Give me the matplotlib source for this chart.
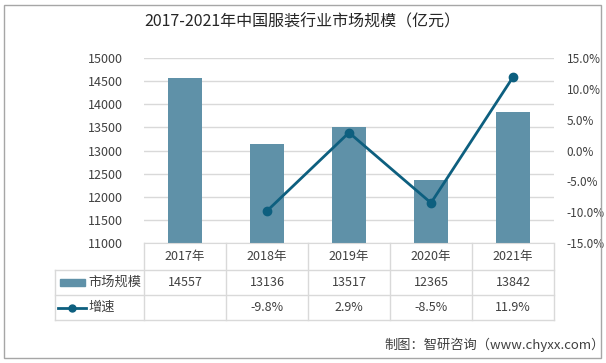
import matplotlib
matplotlib.use('Agg')
import matplotlib.pyplot as plt
from matplotlib.patches import Rectangle
from matplotlib.lines import Line2D
import matplotlib.transforms as mtransforms

plt.rcParams['font.family'] = ['Noto Sans CJK SC', 'DejaVu Sans']

# data
years = ['2017年', '2018年', '2019年', '2020年', '2021年']
market_size = [14557, 13136, 13517, 12365, 13842]
growth = [None, -9.8, 2.9, -8.5, 11.9]
growth_labels = ['', '-9.8%', '2.9%', '-8.5%', '11.9%']
series_names = ['市场规模', '增速']

bar_color = '#5f91a8'
line_color = '#0d5f7f'
grid_color = '#d9d9d9'
text_color = '#404040'

W, H = 606, 363
fig = plt.figure(figsize=(W / 100, H / 100), dpi=100)

# outer frame
fig.patches.append(Rectangle((4 / W, 5 / H), 597 / W, 353 / H, transform=fig.transFigure,
                             fill=False, edgecolor='#a6a6a6', linewidth=1))

ax = fig.add_axes([144 / W, 1 - 243 / H, 410 / W, 185 / H])
x = list(range(len(years)))
ax.bar(x, market_size, width=0.41, color=bar_color, zorder=2)
ax.set_xlim(-0.5, len(years) - 0.5)
ax.set_ylim(11000, 15000)
ax.set_yticks(range(11000, 15001, 500))
ax.grid(axis='y', color=grid_color, linewidth=1, zorder=0)
ax.tick_params(axis='y', length=0, pad=15, labelsize=9, labelcolor=text_color)
ax.set_xticks([])
for s in ['top', 'right', 'left']:
    ax.spines[s].set_visible(False)
ax.spines['bottom'].set_color(grid_color)

ax2 = ax.twinx()
gx = [i for i, g in zip(x, growth) if g is not None]
gy = [g for g in growth if g is not None]
ax2.plot(gx, gy, color=line_color, linewidth=2, marker='o', markersize=6, zorder=3)
ax2.set_ylim(-15, 15)
ax2.set_yticks(range(-15, 16, 5))
ax2.set_yticklabels(['%.1f%%' % v for v in range(-15, 16, 5)])
ax2.tick_params(axis='y', length=0, pad=9, labelsize=8.5, labelcolor=text_color)
for s in ax2.spines.values():
    s.set_visible(False)

# data table below the plot
trans = mtransforms.blended_transform_factory(ax.transData, fig.transFigure)
figt = fig.transFigure
row_h = 25 / H
y0 = 1 - 243 / H          # bottom of plot
y1 = 1 - 270 / H          # end of header row
y2 = y1 - row_h
y3 = y2 - row_h
left_x = 55 / W
right_x = 554 / W
line_kw = dict(color=grid_color, linewidth=1, clip_on=False)

for yy in (y1, y2, y3):
    fig.add_artist(Line2D([left_x, right_x], [yy, yy], transform=figt, **line_kw))
fig.add_artist(Line2D([left_x, left_x], [y1, y3], transform=figt, **line_kw))
for b in [i - 0.5 for i in range(len(years) + 1)]:
    fig.add_artist(Line2D([b, b], [y0, y3], transform=trans, **line_kw))

for i, yr in enumerate(years):
    fig.text(i, (y0 + y1) / 2, yr, transform=trans, ha='center', va='center',
             fontsize=9, color=text_color)
    fig.text(i, (y1 + y2) / 2, str(market_size[i]), transform=trans, ha='center',
             va='center', fontsize=9, color=text_color)
    fig.text(i, (y2 + y3) / 2, growth_labels[i], transform=trans, ha='center',
             va='center', fontsize=9, color=text_color)

# legend keys in the table
fig.patches.append(Rectangle((60 / W, (y1 + y2) / 2 - 3 / H), 25 / W, 7 / H,
                             transform=figt, color=bar_color))
fig.add_artist(Line2D([58 / W, 86 / W], [(y2 + y3) / 2] * 2, transform=figt,
                      color=line_color, linewidth=2))
fig.add_artist(Line2D([72 / W], [(y2 + y3) / 2], transform=figt, color=line_color,
                      marker='o', markersize=5))
fig.text(88 / W, (y1 + y2) / 2, series_names[0], ha='left', va='center',
         fontsize=9.5, color=text_color)
fig.text(88 / W, (y2 + y3) / 2, series_names[1], ha='left', va='center',
         fontsize=9.5, color=text_color)

fig.text(302 / W, 1 - 22 / H, '2017-2021年中国服装行业市场规模（亿元）', ha='center',
         va='center', fontsize=11.5, color='#262626')
fig.text(605 / W, 1 - 345 / H, '制图：智研咨询（www.chyxx.com）', ha='right',
         va='center', fontsize=9.5, color=text_color)

fig.savefig('out.png', dpi=100)
